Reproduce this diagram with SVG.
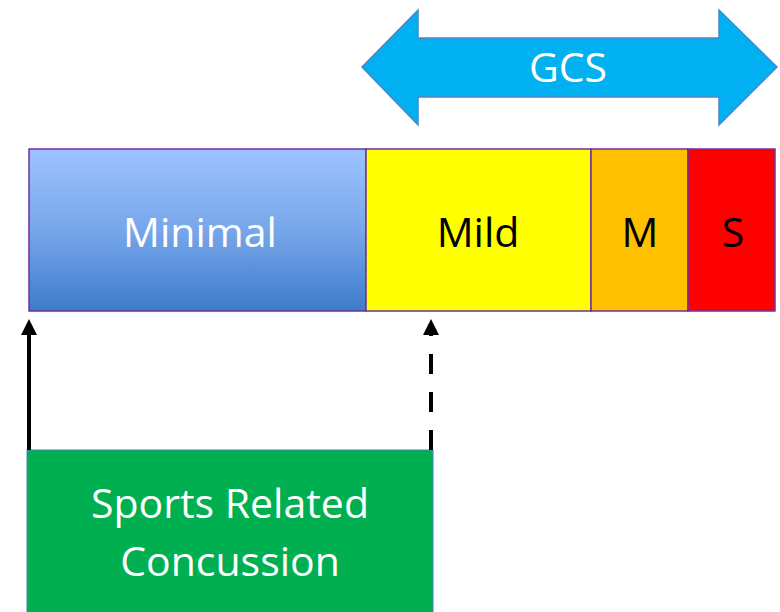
<svg xmlns="http://www.w3.org/2000/svg" width="780" height="612" viewBox="0 0 780 612">
<defs>
<linearGradient id="gMin" x1="0" y1="0" x2="0" y2="1">
<stop offset="0" stop-color="#9DC3FE"/>
<stop offset="0.5" stop-color="#77A6EA"/>
<stop offset="1" stop-color="#3D7CCB"/>
</linearGradient>
<marker id="ah" markerWidth="4" markerHeight="4" refX="2" refY="2" orient="auto" markerUnits="strokeWidth" viewBox="0 0 4 4">
<path d="M0,0 L4,2 L0,4 z" fill="#000"/>
</marker>
</defs>
<style>
.seg{stroke:#7030A0;stroke-width:1.5}
.t{font-family:"Open Sans","Liberation Sans",sans-serif;font-size:41px;text-anchor:middle}
.w{fill:#fff}
.k{fill:#000}
.conn{stroke:#000;stroke-width:4;fill:none}
</style>
<g id="gcs">
<polygon points="362,67 418,10 418,38 719,38 719,10 777,67 719,125 719,97 418,97 418,125" fill="#00B0F0" stroke="#4A86C8" stroke-width="1.5"/>
<text class="t w" x="568" y="82">GCS</text>
</g>
<g id="minimal">
<rect class="seg" x="29" y="149" width="337" height="162" fill="url(#gMin)"/>
<text class="t w" x="200" y="247">Minimal</text>
</g>
<g id="mild">
<rect class="seg" x="366" y="149" width="225" height="162" fill="#FFFF00"/>
<text class="t k" x="478" y="247">Mild</text>
</g>
<g id="moderate">
<rect class="seg" x="591" y="149" width="97" height="162" fill="#FFC000"/>
<text class="t k" x="640" y="247">M</text>
</g>
<g id="severe">
<rect class="seg" x="688" y="149" width="87" height="162" fill="#FF0000"/>
<text class="t k" x="733" y="247">S</text>
</g>
<g id="src">
<rect x="27" y="450" width="406" height="170" fill="#00B050" stroke="#4A7EBB" stroke-width="1"/>
<text class="t w" x="230" y="518">Sports Related</text>
<text class="t w" x="230" y="576">Concussion</text>
</g>
<g id="connectors">
<line class="conn" x1="29" y1="450" x2="29" y2="327" marker-end="url(#ah)"/>
<line class="conn" x1="431" y1="450" x2="431" y2="327" stroke-dasharray="20,18" marker-end="url(#ah)"/>
</g>
</svg>
